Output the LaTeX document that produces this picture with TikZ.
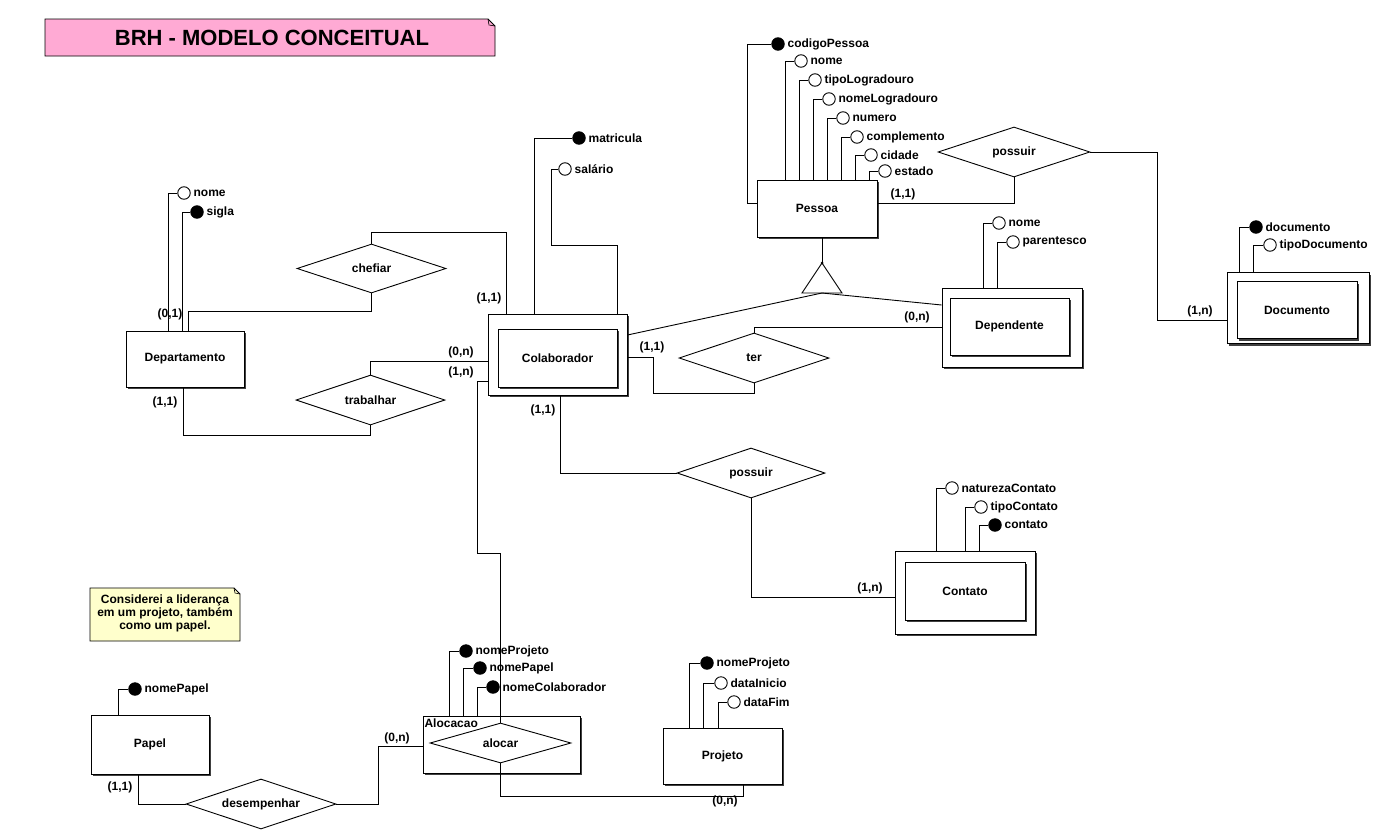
\documentclass[tikz,border=0pt]{standalone}
\usepackage{fontspec}
\setmainfont{Liberation Sans}
\usepackage{xcolor}
\usepackage{tikz}
\usetikzlibrary{shapes.geometric,shadows}

\definecolor{rosatitulo}{HTML}{FFAAD4}
\definecolor{amarelonota}{HTML}{FFFFCC}

\begin{document}
\begin{tikzpicture}[x=1pt, y=-1pt, line width=0.9pt,
        font=\fontsize{12}{13}\selectfont\bfseries,
        entity/.style={draw, rectangle, fill=white, inner sep=0pt,
            drop shadow={shadow xshift=2pt, shadow yshift=-2pt, fill=black!75, opacity=1}},
        rel/.style={draw, diamond, aspect=3, fill=white, inner sep=0pt},
        attr/.style={draw, circle, fill=white, minimum size=12.5pt, inner sep=0pt, label distance=0pt},
        key/.style={attr, fill=black},
        card/.style={inner sep=0pt},
        every label/.append style={inner sep=2.5pt}
    ]
        \path[use as bounding box, fill=white] (0,0) rectangle (1376,833);

        % titulo e nota
        \draw[fill=rosatitulo] (45,19) -- (488,19) -- (495,26) -- (495,56) -- (45,56) -- cycle;
        \draw[line width=0.6pt] (488,19) -- (489,25) -- (495,26);
        \node (titulo) at (272,37.5) {\fontsize{22}{24}\selectfont BRH - MODELO CONCEITUAL};
        \draw[fill=amarelonota] (90,588) -- (234,588) -- (240,594) -- (240,641) -- (90,641) -- cycle;
        \draw[line width=0.6pt] (234,588) -- (235,593) -- (240,594);
        \node [align=center] (nota) at (165,613.5) {Considerei a liderança\\em um projeto, também\\como um papel.};

        % entidades
        \node [entity, minimum width=120pt, minimum height=57pt] (pessoa) at (817,208.5) {Pessoa};
        \node [entity, minimum width=118pt, minimum height=56pt] (depto) at (185,359) {Departamento};
        \node [entity, minimum width=139pt, minimum height=81pt] (colab) at (557.5,354.5) {};
        \node [entity, minimum width=119pt, minimum height=58pt] (colabin) at (557.5,358) {Colaborador};
        \node [entity, minimum width=140pt, minimum height=79pt] (dep) at (1012,327.5) {};
        \node [entity, minimum width=119pt, minimum height=57pt] (depin) at (1009.5,326.5) {Dependente};
        \node [entity, minimum width=142pt, minimum height=71pt] (doc) at (1298,308) {};
        \node [entity, minimum width=120pt, minimum height=57pt] (docin) at (1297,310) {Documento};
        \node [entity, minimum width=140pt, minimum height=83pt] (contato) at (965,592.5) {};
        \node [entity, minimum width=120pt, minimum height=58pt] (contatoin) at (965,591) {Contato};
        \node [entity, minimum width=118pt, minimum height=59pt] (papel) at (150,744.5) {Papel};
        \node [entity, minimum width=119pt, minimum height=56pt] (projeto) at (722.5,756) {Projeto};
        \node [entity, minimum width=157pt, minimum height=57pt] (alocacao) at (501.5,744.5) {};

        % relacionamentos
        \node [rel, minimum width=149pt, minimum height=49pt] (chefiar) at (371.5,268.5) {chefiar};
        \node [rel, minimum width=149pt, minimum height=50pt] (trabalhar) at (370.5,400) {trabalhar};
        \node [rel, minimum width=150pt, minimum height=50pt] (ter) at (754,358) {ter};
        \node [rel, minimum width=152pt, minimum height=50pt] (possuirdoc) at (1014,152) {possuir};
        \node [rel, minimum width=148pt, minimum height=50pt] (possuircont) at (751,473) {possuir};
        \node [rel, minimum width=150pt, minimum height=50pt] (desempenhar) at (261,804) {desempenhar};
        \node [rel, minimum width=141pt, minimum height=40pt] (alocar) at (500.5,743) {alocar};
        \node [anchor=north west, inner sep=1.5pt] (alocacaotxt) at ([yshift=-1pt]alocacao.north west) {Alocacao};

        % especializacao
        \coordinate (genapex) at (822,263);
        \coordinate (genbase) at (822,293);
        \draw (genapex) -- (842,293) -- (802,293) -- cycle;
        \fill (genapex) circle (1.5);

        % atributos
        \node [key, label=right:codigoPessoa] (pcodigo) at (778,44) {};
        \node [attr, label=right:nome] (pnome) at (801,61) {};
        \node [attr, label=right:tipoLogradouro] (ptipo) at (815,80) {};
        \node [attr, label=right:nomeLogradouro] (pnomelog) at (829,99) {};
        \node [attr, label=right:numero] (pnumero) at (843,118) {};
        \node [attr, label=right:complemento] (pcompl) at (857,137) {};
        \node [attr, label=right:cidade] (pcidade) at (871,155) {};
        \node [attr, label=right:estado] (pestado) at (885,171) {};
        \node [attr, label=right:nome] (dnome) at (184,193) {};
        \node [key, label=right:sigla] (dsigla) at (197,212) {};
        \node [key, label=right:matricula] (cmatricula) at (579,138) {};
        \node [attr, label=right:salário] (csalario) at (565,169) {};
        \node [attr, label=right:nome] (depnome) at (999,223) {};
        \node [attr, label=right:parentesco] (depparent) at (1013,242) {};
        \node [key, label=right:documento] (docdoc) at (1256,227) {};
        \node [attr, label=right:tipoDocumento] (doctipo) at (1270,245) {};
        \node [attr, label=right:naturezaContato] (ctnatureza) at (952,488) {};
        \node [attr, label=right:tipoContato] (cttipo) at (981,507) {};
        \node [key, label=right:contato] (ctcontato) at (995,525) {};
        \node [key, label=right:nomeProjeto] (anomeproj) at (466,651) {};
        \node [key, label=right:nomePapel] (anomepapel) at (480,668) {};
        \node [key, label=right:nomeColaborador] (anomecolab) at (493,687) {};
        \node [key, label=right:nomeProjeto] (prnome) at (707,663) {};
        \node [attr, label=right:dataInicio] (prinicio) at (721,683) {};
        \node [attr, label=right:dataFim] (prfim) at (734,702) {};
        \node [key, label=right:nomePapel] (papnome) at (135,689) {};

        \draw (pcodigo.west) -- ++(-24,0) |- ([yshift=5pt]pessoa.west);
        \draw (pnome.west) -| ([xshift=29pt]pessoa.north west);
        \draw (ptipo.west) -| ([xshift=43pt]pessoa.north west);
        \draw (pnomelog.west) -| ([xshift=57pt]pessoa.north west);
        \draw (pnumero.west) -| ([xshift=71pt]pessoa.north west);
        \draw (pcompl.west) -| ([xshift=85pt]pessoa.north west);
        \draw (pcidade.west) -| ([xshift=99pt]pessoa.north west);
        \draw (pestado.west) -| ([xshift=113pt]pessoa.north west);
        \draw (dnome.west) -| ([xshift=-17pt]depto.north);
        \draw (dsigla.west) -| ([xshift=-3pt]depto.north);
        \draw (cmatricula.west) -| ([xshift=47pt]colab.north west);
        \draw (csalario.west) -| ++(-6.5,76) -| ([xshift=-10pt]colab.north east);
        \draw (depnome.west) -| ([xshift=42pt]dep.north west);
        \draw (depparent.west) -| ([xshift=56pt]dep.north west);
        \draw (docdoc.west) -| ([xshift=13pt]doc.north west);
        \draw (doctipo.west) -| ([xshift=27pt]doc.north west);
        \draw (ctnatureza.west) -| ([xshift=42pt]contato.north west);
        \draw (cttipo.west) -| ([xshift=71pt]contato.north west);
        \draw (ctcontato.west) -| ([xshift=85pt]contato.north west);
        \draw (anomeproj.west) -| ([xshift=27pt]alocacao.north west);
        \draw (anomepapel.west) -| ([xshift=41pt]alocacao.north west);
        \draw (anomecolab.west) -| ([xshift=55pt]alocacao.north west);
        \draw (prnome.west) -| ([xshift=27pt]projeto.north west);
        \draw (prinicio.west) -| ([xshift=41pt]projeto.north west);
        \draw (prfim.west) -| ([xshift=56pt]projeto.north west);
        \draw (papnome.west) -| ([xshift=28pt]papel.north west);

        % ligacoes
        \draw ([yshift=5pt]pessoa.east) -| (possuirdoc.south);
        \draw (possuirdoc.east) -- ++(67,0) |- ([yshift=-12pt]doc.west);
        \draw (genapex) -- (genapex |- pessoa.south);
        \draw (genbase) -- ([yshift=19.5pt]colab.east);
        \draw (genbase) -- ([yshift=22.5pt]dep.west);
        \draw ([yshift=0.5pt]dep.west) -| (ter.north);
        \draw ([yshift=-2.5pt]colab.east) -- ++(26,0) |- ([yshift=-10pt]ter.south) -- (ter.south);
        \draw ([xshift=3pt]depto.north) |- ([yshift=-18pt]chefiar.south) -- (chefiar.south);
        \draw (chefiar.north) -- ++(0,-11) -| ([xshift=19pt]colab.north west);
        \draw (trabalhar.north) |- ([yshift=-6.5pt]colab.west);
        \draw (trabalhar.south) -- ++(0,10) -| ([xshift=-2pt]depto.south);
        \draw ([yshift=-26.5pt]colab.west) -- ++(-10,0) -- ++(0,172) -| (alocar.north);
        \draw ([xshift=3pt]colab.south) |- (possuircont.west);
        \draw (possuircont.south) |- ([yshift=-4.5pt]contato.west);
        \draw ([xshift=-12pt]papel.south) |- (desempenhar.west);
        \draw (desempenhar.east) -- ++(42,0) |- ([yshift=-1.5pt]alocacao.west);
        \draw (alocar.south) -- ++(0,33) -| ([xshift=20.5pt]projeto.south);

        % cardinalidades
        \node [card] (cpessoa) at (903,194) {(1,1)};
        \node [card] (cdoc) at (1200,311) {(1,n)};
        \node [card] (cdeptochefe) at (170,314) {(0,1)};
        \node [card] (cdeptotrab) at (165,402) {(1,1)};
        \node [card] (ccolabchefe) at (489,298) {(1,1)};
        \node [card] (ccolabtrab) at (461,352) {(0,n)};
        \node [card] (ccolabaloc) at (461,372) {(1,n)};
        \node [card] (ccolabcont) at (543,410) {(1,1)};
        \node [card] (ccolabter) at (652,347) {(1,1)};
        \node [card] (cdep) at (917,317) {(0,n)};
        \node [card] (ccontato) at (870,588) {(1,n)};
        \node [card] (cpapel) at (120,787) {(1,1)};
        \node [card] (calocacao) at (397,738) {(0,n)};
        \node [card] (cprojeto) at (725,801) {(0,n)};

    \end{tikzpicture}
\end{document}
